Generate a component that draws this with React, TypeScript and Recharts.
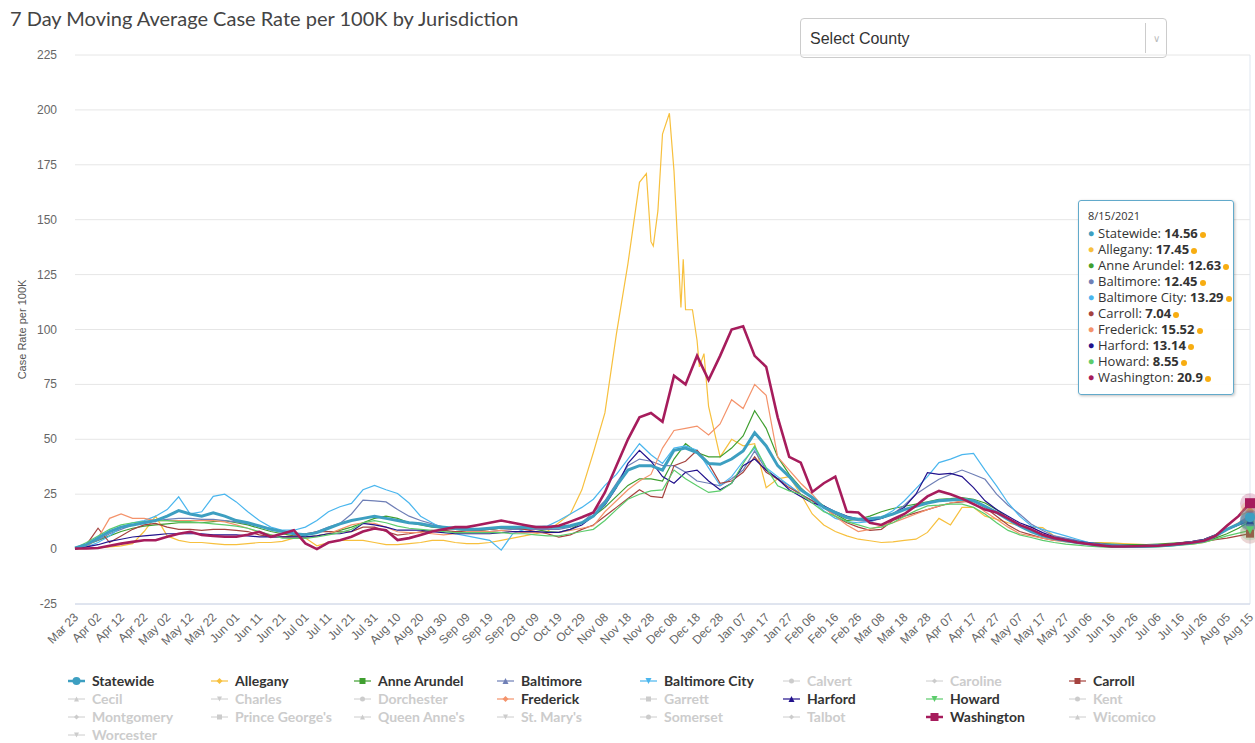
import React from "react";
import { CartesianGrid, Line, LineChart, ReferenceLine, XAxis, YAxis } from "recharts";

// x axis: one tick every 10 days, Mar 23 2020 .. Aug 15 2021
const tickLabels = [
  "Mar 23", "Apr 02", "Apr 12", "Apr 22", "May 02", "May 12", "May 22", "Jun 01", "Jun 11", "Jun 21",
  "Jul 01", "Jul 11", "Jul 21", "Jul 31", "Aug 10", "Aug 20", "Aug 30", "Sep 09", "Sep 19", "Sep 29",
  "Oct 09", "Oct 19", "Oct 29", "Nov 08", "Nov 18", "Nov 28", "Dec 08", "Dec 18", "Dec 28", "Jan 07",
  "Jan 17", "Jan 27", "Feb 06", "Feb 16", "Feb 26", "Mar 08", "Mar 18", "Mar 28", "Apr 07", "Apr 17",
  "Apr 27", "May 07", "May 17", "May 27", "Jun 06", "Jun 16", "Jun 26", "Jul 06", "Jul 16", "Jul 26",
  "Aug 05", "Aug 15",
];
const yTicks = [-25, 0, 25, 50, 75, 100, 125, 150, 175, 200, 225];

// values sampled every 5 days from Mar 23 2020 (day 0) to Aug 15 2021 (day 510)
const sampleStep = 5;

const statewide = [
  0.5, 2, 5, 8, 10, 11, 12, 13, 15, 17.5,
  16, 15, 16.5, 15, 13, 12, 10.5, 9, 8, 7,
  6.5, 7.5, 9.5, 11.5, 13, 14, 15, 14, 13, 12,
  11.5, 10.5, 10, 9.5, 9, 9, 9.5, 10, 10, 10,
  10, 10, 10, 10.6, 12, 15, 21, 28.8, 36, 38,
  38, 36, 45, 46, 44, 39, 38.6, 41, 44.7, 53,
  47, 38, 33, 27, 23.5, 19, 16.7, 14.4, 13.6, 13.8,
  14.4, 16, 18, 19.5, 21, 22, 22.4, 22.7, 22, 19.5,
  16.7, 13.5, 10.6, 8, 6, 4.8, 3.8, 3, 2.3, 1.8,
  1.5, 1.3, 1.2, 1.3, 1.5, 1.8, 2.3, 3, 3.8, 6,
  9, 11.4, 14.56,
];

const allegany = [
  0, 0.3, 0.5, 1, 1.5, 2.5, 8, 15, 6, 4,
  3, 3, 2.5, 2, 2, 2.5, 3, 3, 3.5, 5,
  5, 1.5, 3, 4, 4, 4, 3, 2, 2, 2.5,
  3, 4, 4, 3, 2.5, 2.5, 3, 4, 5, 6,
  7, 8, 12, 16, 27, 44, 62, 98, 130, 167,
  140, 189, 172, 109, 95, 65, 42, 50, 47, 48,
  28, 32, 33, 25, 16, 11, 8, 6, 4.5, 3.8,
  3, 3.3, 4, 4.5, 7.6, 14, 11, 19, 19, 15,
  13.6, 12, 10.6, 10, 9.8, 6, 4, 3.5, 3, 3,
  2.8, 2.5, 2.3, 2, 1.5, 1.8, 2, 2.3, 3, 4.5,
  11, 15, 17.45,
];
// extra daily readings around the Allegany peak (Nov/Dec 2020)
const alleganyPeakDays = [248, 251, 253, 258, 263, 264, 268, 271, 273];
const alleganyPeakValues = [171, 138, 154, 198.5, 110, 132, 109, 83, 89];

const anneArundel = [
  0.5, 2, 4, 6, 8, 9.5, 10.5, 11, 11.5, 12,
  12, 12, 12.5, 13, 12, 11, 9.5, 8, 7, 6,
  5.5, 6, 7, 8.5, 10, 12, 14, 15, 14, 12,
  11, 10, 9.5, 9, 8.5, 8.5, 9, 9.5, 9.5, 9.5,
  9, 8, 7.6, 9, 12, 15, 19, 24, 29, 32,
  32, 31, 41, 48, 44, 42, 42, 46, 51.5, 63,
  55, 42, 34, 28, 23, 19.7, 16, 13, 13.6, 15,
  17, 18.5, 19.5, 20.5, 21.5, 22.7, 23, 23.5, 22.7, 21,
  18, 14, 10.5, 9, 6.5, 4.8, 3.8, 3.3, 3, 2.6,
  2.3, 2.1, 2, 2.1, 2.3, 2.6, 3, 3.4, 3.8, 5,
  7, 9.5, 12.63,
];

const baltimore = [
  0.5, 2, 4, 7, 9, 11, 12.5, 13, 13.5, 14,
  14, 13.5, 13.5, 13, 12.4, 11.5, 10.5, 9.4, 8, 7,
  6.4, 8, 10, 11.7, 16, 22.3, 22, 21.5, 18, 15,
  13, 11.5, 10, 9, 8.5, 8, 8, 8.5, 9, 9,
  9, 9, 9, 10, 12, 16.7, 22, 30, 38, 41,
  40, 38, 38, 35, 31, 30, 28.8, 32, 36, 44.7,
  36, 32, 29, 25, 22, 19, 16, 14, 13, 12.5,
  14, 16, 20, 25, 28.5, 31.8, 34, 36, 34, 31.8,
  25, 20, 16, 11.4, 8.5, 6, 5, 4, 3, 2.5,
  2, 1.8, 1.5, 1.6, 1.8, 2.1, 2.5, 3, 3.5, 5.5,
  9, 11, 12.45,
];

const baltimoreCity = [
  0, 1, 3, 6, 10, 12, 13, 15, 18, 23.8,
  16, 17, 24, 25, 21.5, 17, 13, 10, 8.6, 8.6,
  10, 13, 17, 19.3, 20.8, 27, 29, 27, 25.3, 21,
  15, 12, 9, 7, 6, 5, 4, -0.5, 7, 9,
  10, 10.5, 13, 16, 19, 22.7, 29, 34, 41, 48,
  43, 39, 46, 47, 45, 37, 29, 33, 40, 46,
  37, 33, 29, 25, 22, 17.5, 14, 12.5, 12, 12.5,
  14.5, 17.5, 22, 27.5, 33, 39.4, 41, 43, 43.6, 36,
  28.8, 21, 15, 10.6, 9, 7.5, 6, 4.5, 3, 2.2,
  1.8, 1.5, 1.5, 1.5, 1.5, 2, 2.5, 3, 3.5, 6,
  9, 11.5, 13.29,
];

const carroll = [
  0, 2, 9.5, 3, 6, 9, 11, 11.7, 10, 9,
  9, 8.5, 9, 9, 8.5, 8, 6.5, 5.6, 5.6, 6,
  7, 7.9, 8, 7.9, 8, 10, 10, 8, 6.4, 7,
  7.9, 8.5, 8.5, 8, 8, 8.5, 9, 9.5, 10, 9,
  8, 7, 5.5, 6.5, 9, 11, 15, 19, 23, 27,
  24, 23.5, 38, 40, 45, 39, 30, 31, 35, 42,
  35, 31.8, 28, 25, 22, 19, 15, 12, 10, 8.5,
  9, 13, 15, 16.5, 18, 19.5, 21, 21.5, 22, 19,
  15, 11, 8, 6.5, 5, 4, 3.8, 3, 2.2, 1.8,
  1.5, 1.5, 1.5, 1.8, 2, 2.2, 2.5, 3, 3.5, 4.3,
  5, 6, 7.04,
];

const frederick = [
  0, 1, 5, 14, 16, 14, 14, 13, 13, 13,
  13, 13, 13, 12.4, 11, 9.5, 7.5, 6.5, 5.5, 5,
  4.9, 6, 7, 9, 11, 12, 11.7, 10, 7.9, 7.5,
  7.5, 7, 6.5, 7, 8, 8, 8, 8.5, 8, 7.5,
  7.5, 7.5, 7.6, 8.5, 9.5, 10.6, 17, 22, 27, 31,
  34, 46, 54, 55, 56, 52, 57, 68, 64, 75,
  70, 42, 36, 30, 25, 19, 15, 11, 8, 9,
  10.6, 12, 14, 16, 18, 19.7, 21, 22, 21, 17,
  13.6, 10, 7, 6, 5, 4, 3.3, 2.8, 2.4, 2,
  1.8, 1.6, 1.5, 1.6, 1.8, 2.2, 2.8, 3.5, 4.5, 6.5,
  9, 12, 15.52,
];

const harford = [
  0, 1, 2, 3.5, 4.5, 5.5, 6, 6.5, 7, 7,
  7, 7, 6.5, 6.5, 6.5, 6, 5.6, 5.6, 5.6, 5.6,
  5.6, 6, 7, 7, 8, 11.7, 11, 10, 8.6, 8.6,
  8.6, 8, 7.5, 7, 7, 7, 7, 7.5, 8, 8,
  8, 7.6, 7.6, 9, 11, 15, 20, 28, 39, 45,
  40, 33, 30, 35, 36, 31, 27, 30, 38, 41,
  36, 32, 27, 24, 21, 19.7, 17, 15, 13.6, 13,
  14, 16, 19, 25, 34.8, 34, 34.5, 33, 28, 22,
  18, 15, 12, 10, 7.5, 5.5, 4.5, 3.5, 2.8, 2.2,
  1.8, 1.5, 1.3, 1.5, 1.8, 2.2, 2.8, 3.5, 4.5, 6.5,
  9, 11, 13.14,
];

const howard = [
  0.5, 3, 6, 9, 11, 12, 12.5, 13, 13, 12.5,
  12.5, 12, 11.5, 11, 10.5, 9.5, 8, 6.5, 5, 4.9,
  4.9, 5.5, 6.5, 7.5, 9, 12, 13, 12, 10.5, 9.5,
  9, 8.5, 8, 7.5, 7.5, 7.5, 7.5, 7.5, 7, 7,
  6.5, 6, 6, 7, 8, 9, 13, 18, 22.7, 25,
  26.5, 27, 36, 32, 28.8, 25.8, 26.5, 30, 39, 47,
  37, 28.8, 26.5, 25, 21, 17, 15, 12.5, 11, 9.5,
  10, 12, 15, 17.5, 19.7, 20, 20.5, 20.5, 19, 16,
  12, 8.5, 6.5, 5.3, 4, 3, 2.3, 1.8, 1.3, 1,
  0.8, 0.8, 0.8, 0.9, 1, 1.3, 1.8, 2.3, 3, 4.5,
  6, 7.3, 8.55,
];

const washington = [
  0.3, 0.3, 0.5, 1.5, 2.5, 3.3, 4, 4, 5.6, 7,
  7.9, 6.4, 6, 5.6, 5.6, 6.5, 7.9, 5.6, 7, 8.6,
  2.6, 0, 3, 4, 5.6, 8, 9.4, 8.6, 4.1, 5,
  6.4, 8, 9, 10, 10, 11, 12, 13, 12, 11,
  10, 10, 10.6, 12.5, 14.5, 16.7, 25.8, 38, 50, 60,
  62, 58, 79, 75, 88, 77, 88, 100, 101.5, 88,
  83, 60, 42, 39.4, 26, 30, 33, 17, 16.7, 12,
  11, 13.6, 16, 19.7, 24, 26.5, 25, 23, 20.5, 18,
  16.7, 14, 11, 9, 6.5, 5, 4, 3, 2.3, 1.7,
  1.2, 1.2, 1.3, 1.4, 1.5, 2, 2.5, 3, 3.8, 6,
  10.6, 15, 20.9,
];

const jurisdictions = [
  "Statewide", "Allegany", "Anne Arundel", "Baltimore", "Baltimore City", "Calvert", "Caroline", "Carroll",
  "Cecil", "Charles", "Dorchester", "Frederick", "Garrett", "Harford", "Howard", "Kent",
  "Montgomery", "Prince George's", "Queen Anne's", "St. Mary's", "Somerset", "Talbot", "Washington", "Wicomico",
  "Worcester",
];
const symbols = ["circle", "diamond", "square", "triangle", "triangle-down"];

type Series = { name: string; key: string; values: number[]; color: string; width: number };

// drawing order (thick ones last, on top)
const series: Series[] = [
  { name: "Allegany", key: "allegany", values: allegany, color: "#f7c03e", width: 1.2 },
  { name: "Anne Arundel", key: "anneArundel", values: anneArundel, color: "#3f9f2f", width: 1.2 },
  { name: "Baltimore", key: "baltimore", values: baltimore, color: "#6f7fb6", width: 1.2 },
  { name: "Baltimore City", key: "baltimoreCity", values: baltimoreCity, color: "#4ab6ee", width: 1.2 },
  { name: "Carroll", key: "carroll", values: carroll, color: "#a5433f", width: 1.2 },
  { name: "Frederick", key: "frederick", values: frederick, color: "#f4936b", width: 1.2 },
  { name: "Harford", key: "harford", values: harford, color: "#22128c", width: 1.2 },
  { name: "Howard", key: "howard", values: howard, color: "#5ccc6c", width: 1.2 },
  { name: "Statewide", key: "statewide", values: statewide, color: "#3d9fc1", width: 3 },
  { name: "Washington", key: "washington", values: washington, color: "#a61c5c", width: 2.6 },
];
const tooltipOrder = [
  "Statewide", "Allegany", "Anne Arundel", "Baltimore", "Baltimore City",
  "Carroll", "Frederick", "Harford", "Howard", "Washington",
];

const rows: Record<string, number>[] = statewide.map((_, i) => {
  const row: Record<string, number> = { day: i * sampleStep };
  series.forEach((s) => (row[s.key] = s.values[i]));
  return row;
});
alleganyPeakDays.forEach((d, i) => rows.push({ day: d, allegany: alleganyPeakValues[i] }));
rows.sort((a, b) => a.day - b.day);
const lastIndex = rows.length - 1;

const axisFont = "'Liberation Sans', Arial, sans-serif";
const uiFont = "Lato, 'Open Sans', sans-serif";
const tipFont = "'Open Sans', Lato, sans-serif";

const Symbol = ({ kind, cx, cy, r, color }: { kind: string; cx: number; cy: number; r: number; color: string }) => {
  if (kind === "circle") return <circle cx={cx} cy={cy} r={r} fill={color} />;
  if (kind === "square") return <rect x={cx - r} y={cy - r} width={2 * r} height={2 * r} fill={color} />;
  if (kind === "diamond")
    return <path d={`M${cx},${cy - r} L${cx + r},${cy} L${cx},${cy + r} L${cx - r},${cy} Z`} fill={color} />;
  if (kind === "triangle")
    return <path d={`M${cx},${cy - r} L${cx + r},${cy + r} L${cx - r},${cy + r} Z`} fill={color} />;
  return <path d={`M${cx - r},${cy - r} L${cx + r},${cy - r} L${cx},${cy + r} Z`} fill={color} />;
};

const endDot = (s: Series) => (props: any) => {
  const { cx, cy, index } = props;
  if (index !== lastIndex || cy == null) return <g key={`${s.key}-${index}`} />;
  const kind = symbols[jurisdictions.indexOf(s.name) % 5];
  return (
    <g key={`${s.key}-end`}>
      <circle cx={cx} cy={cy} r={10} fill={s.color} opacity={0.22} />
      <Symbol kind={kind} cx={cx} cy={cy} r={s.width > 2 ? 5 : 4} color={s.color} />
    </g>
  );
};

const XTick = (props: any) => {
  const { x, y, payload } = props;
  const ax = x + 4;
  const ay = y + 6;
  return (
    <text x={ax} y={ay} textAnchor="end" fontSize={12} fill="#666" fontFamily={axisFont} transform={`rotate(-45 ${ax} ${ay})`}>
      {tickLabels[Math.round(payload.value / 10)]}
    </text>
  );
};

const YTick = (props: any) => {
  const { x, y, payload } = props;
  return (
    <text x={x} y={y} dy={4} textAnchor="end" fontSize={12} fill="#666" fontFamily={axisFont}>
      {payload.value}
    </text>
  );
};

const LegendMark = ({ name }: { name: string }) => {
  const s = series.find((d) => d.name === name);
  const color = s ? s.color : "#cccccc";
  const width = s ? Math.min(s.width, 2.5) : 1;
  const kind = symbols[jurisdictions.indexOf(name) % 5];
  const r = s ? (s.width > 2 ? 4 : 3) : 2.5;
  return (
    <svg width={18} height={12} style={{ position: "absolute", left: 0, top: 3 }}>
      <line x1={0} x2={17} y1={6} y2={6} stroke={color} strokeWidth={width} />
      <Symbol kind={kind} cx={8.5} cy={6} r={r} color={color} />
    </svg>
  );
};

const ChartLegend = () => (
  <div style={{ position: "absolute", left: 68, top: 672, width: 1180 }}>
    {jurisdictions.map((name, i) => {
      const active = series.some((s) => s.name === name);
      return (
        <div
          key={name}
          style={{
            position: "absolute",
            left: (i % 8) * 143,
            top: Math.floor(i / 8) * 18,
            height: 18,
            whiteSpace: "nowrap",
          }}
        >
          <LegendMark name={name} />
          <span
            style={{
              position: "absolute",
              left: 24,
              top: 0,
              lineHeight: "18px",
              fontSize: 14,
              fontWeight: 700,
              fontFamily: uiFont,
              color: active ? "#333333" : "#cccccc",
            }}
          >
            {name}
          </span>
        </div>
      );
    })}
  </div>
);

const HoverBox = () => (
  <div
    style={{
      position: "absolute",
      left: 1078,
      top: 200,
      width: 156,
      height: 195,
      padding: "6px 0 0 9px",
      border: "1px solid #62aacb",
      borderRadius: 3,
      background: "rgba(255,255,255,0.96)",
      boxShadow: "1px 1px 3px rgba(0,0,0,0.25)",
      fontFamily: tipFont,
      color: "#333",
      boxSizing: "border-box",
    }}
  >
    <div style={{ fontSize: 11, height: 18, lineHeight: "18px" }}>8/15/2021</div>
    {tooltipOrder.map((name) => {
      const s = series.find((d) => d.name === name)!;
      return (
        <div key={name} style={{ fontSize: 13, height: 16, lineHeight: "16px", whiteSpace: "nowrap", display: "flex", alignItems: "center" }}>
          <span style={{ color: s.color, fontSize: 10, marginRight: 4 }}>●</span>
          <span>{name}:&nbsp;</span>
          <b>{String(s.values[s.values.length - 1])}</b>
          <span
            style={{
              display: "inline-block",
              width: 6,
              height: 6,
              borderRadius: 3,
              background: "#f7ad12",
              marginLeft: 2,
              marginTop: 3,
            }}
          />
        </div>
      );
    })}
  </div>
);

export default function App() {
  return (
    <div style={{ position: "absolute", left: 0, top: 0, width: 1255, height: 743, background: "#fff", overflow: "hidden" }}>
      <div style={{ position: "absolute", left: 10, top: 6, fontFamily: uiFont, fontSize: 20, color: "#444" }}>
        7 Day Moving Average Case Rate per 100K by Jurisdiction
      </div>
      <div
        style={{
          position: "absolute",
          left: 800,
          top: 18,
          width: 367,
          height: 40,
          border: "1px solid #cccccc",
          borderRadius: 4,
          boxSizing: "border-box",
          fontFamily: axisFont,
          fontSize: 16,
          color: "#333",
          lineHeight: "40px",
          paddingLeft: 9,
        }}
      >
        Select County
        <div style={{ position: "absolute", left: 344, top: 4, width: 1, height: 30, background: "#cccccc" }} />
        <div style={{ position: "absolute", left: 352, top: 0, fontSize: 10, color: "#bbb" }}>∨</div>
      </div>

      <div style={{ position: "absolute", left: 0, top: 0 }}>
        <LineChart width={1255} height={660} data={rows} margin={{ top: 55, right: 5, left: 0, bottom: 0 }}>
          <CartesianGrid horizontal vertical={false} stroke="#e6e6e6" />
          <XAxis
            dataKey="day"
            type="number"
            domain={[0, 510]}
            ticks={tickLabels.map((_, i) => i * 10)}
            interval={0}
            height={56}
            tickLine={false}
            axisLine={{ stroke: "#ccd6eb" }}
            tick={<XTick />}
          />
          <YAxis
            domain={[-25, 225]}
            ticks={yTicks}
            width={75}
            axisLine={false}
            tickLine={false}
            tickMargin={12}
            tick={<YTick />}
            label={{
              value: "Case Rate per 100K",
              angle: -90,
              position: "insideLeft",
              offset: 22,
              style: { textAnchor: "middle", fontSize: 11, fill: "#555", fontFamily: axisFont },
            }}
          />
          <ReferenceLine x={510} stroke="#dfe6f0" />
          {series.map((s) => (
            <Line
              key={s.key}
              type="linear"
              dataKey={s.key}
              stroke={s.color}
              strokeWidth={s.width}
              dot={endDot(s)}
              activeDot={false}
              connectNulls
              isAnimationActive={false}
            />
          ))}
        </LineChart>
      </div>

      <HoverBox />
      <ChartLegend />
    </div>
  );
}
